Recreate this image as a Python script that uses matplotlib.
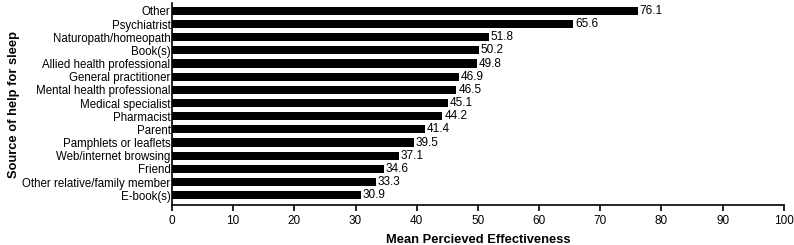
import matplotlib
matplotlib.use("Agg")
import matplotlib.pyplot as plt

plt.rcParams['font.family'] = ['Liberation Sans', 'DejaVu Sans']

# sources, bottom to top
fontes = ["E-book(s)", "Other relative/family member", "Friend", "Web/internet browsing",
          "Pamphlets or leaflets", "Parent", "Pharmacist", "Medical specialist",
          "Mental health professional", "General practitioner", "Allied health professional",
          "Book(s)", "Naturopath/homeopath", "Psychiatrist", "Other"]
valores = [30.9, 33.3, 34.6, 37.1, 39.5, 41.4, 44.2, 45.1, 46.5, 46.9, 49.8, 50.2, 51.8, 65.6, 76.1]
xticks = [0, 10, 20, 30, 40, 50, 60, 70, 80, 90, 100]

fig = plt.figure(figsize=(7.94, 2.45), dpi=100)
ax = fig.add_axes([0.2166, 0.163, 0.7706, 0.825])

pos = range(len(fontes))
ax.barh(pos, valores, height=0.62, color="black")
for p, v in zip(pos, valores):
    ax.text(v + 0.3, p, f"{v:.1f}", va="center", ha="left", fontsize=8.5)

ax.set_yticks(list(pos))
ax.set_yticklabels(fontes, fontsize=8.3)
ax.tick_params(axis="y", length=0, pad=1)
ax.set_xticks(xticks)
ax.tick_params(axis="x", labelsize=8.5, length=4, width=1.2, direction="out", pad=3)
ax.set_xlim(0, 100)
ax.set_ylim(-0.75, 14.6)

for s in ["top", "right"]:
    ax.spines[s].set_visible(False)
for s in ["left", "bottom"]:
    ax.spines[s].set_linewidth(1.2)

ax.set_xlabel("Mean Percieved Effectiveness", fontsize=9.3, fontweight="bold", labelpad=5)
ax.set_ylabel("Source of help for sleep", fontsize=9.3, fontweight="bold", labelpad=2)

fig.savefig("out.png", dpi=100)
